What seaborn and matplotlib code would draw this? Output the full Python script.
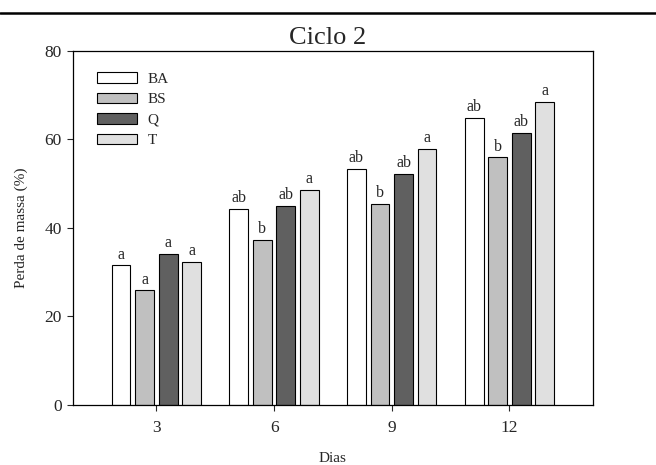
import pandas as pd
import seaborn as sns
import matplotlib.pyplot as plt
from matplotlib.lines import Line2D

# data
dias = ["3", "6", "9", "12"]
tratamentos = ["BA", "BS", "Q", "T"]
ba = [31.5, 44.2, 53.3, 64.8]
bs = [25.9, 37.3, 45.4, 55.9]
q = [34.1, 45.0, 52.1, 61.5]
t = [32.3, 48.6, 57.8, 68.4]
letras = {
    "BA": ["a", "ab", "ab", "ab"],
    "BS": ["a", "b", "b", "b"],
    "Q": ["a", "ab", "ab", "ab"],
    "T": ["a", "a", "a", "a"],
}
cores = ["#ffffff", "#c0c0c0", "#606060", "#e0e0e0"]

df = pd.DataFrame({
    "Dias": dias * 4,
    "Trat": [tr for tr in tratamentos for _ in dias],
    "Perda": ba + bs + q + t,
})

sns.set_style("ticks")
plt.rcParams["font.family"] = ["Liberation Serif", "DejaVu Serif"]

fig = plt.figure(figsize=(6.56, 4.65), dpi=100)
ax = fig.add_axes([0.111, 0.129, 0.793, 0.762])

sns.barplot(data=df, x="Dias", y="Perda", hue="Trat", order=dias,
            hue_order=tratamentos, palette=cores, edgecolor="black",
            linewidth=0.8, width=0.8, gap=0.2, errorbar=None, ax=ax)

# significance letters above bars
for cont, tr in zip(ax.containers, tratamentos):
    ax.bar_label(cont, labels=letras[tr], padding=2, fontsize=11.5)

ax.set_ylim(0, 80)
ax.set_xlim(-0.71, 3.71)
ax.set_yticks([0, 20, 40, 60, 80])
ax.tick_params(axis="both", labelsize=12.5, length=4, width=0.8, direction="out")
ax.tick_params(axis="x", pad=7)
ax.tick_params(axis="y", pad=4)
ax.set_xlabel("Dias", fontsize=11, labelpad=11)
ax.set_ylabel("Perda de massa (%)", fontsize=11, labelpad=12)
for s in ax.spines.values():
    s.set_visible(True)
    s.set_linewidth(0.9)
    s.set_color("black")

ax.legend(loc="upper left", bbox_to_anchor=(0.047, 0.94), frameon=False,
          fontsize=11, handlelength=2.6, handleheight=0.7, handletextpad=0.7,
          labelspacing=0.45, borderpad=0, borderaxespad=0)

fig.text(0.5, 0.905, "Ciclo 2", ha="center", va="baseline", fontsize=19)
fig.add_artist(Line2D([0, 1], [0.972, 0.972], color="black", linewidth=1.8,
                      transform=fig.transFigure))

fig.savefig("out.png", dpi=100)
